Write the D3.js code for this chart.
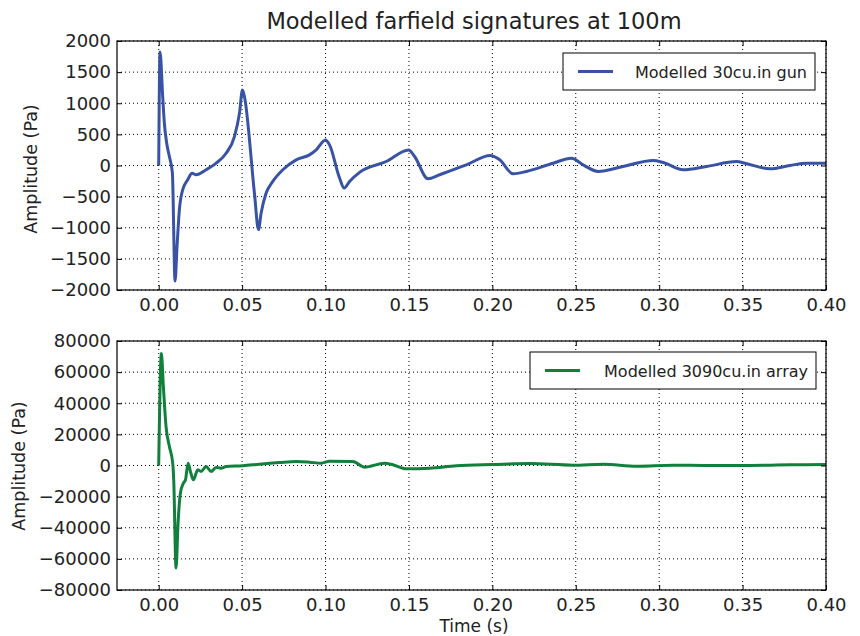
<!DOCTYPE html>
<html lang="en">
<head>
<meta charset="UTF-8">
<title>Modelled farfield signatures</title>
<style>
  body { margin: 0; background: #fff; }
  text { font-family: "DejaVu Sans", sans-serif; fill: #222; }
</style>
</head>
<body>
<svg width="860" height="636"></svg>
<script src="https://d3js.org/d3.v7.min.js"></script>
<script>
// time (s) and amplitude (Pa)
var gunTime = [0, 0.0008, 0.0024, 0.0034, 0.0048, 0.0064, 0.0082, 0.0098, 0.0110, 0.0124, 0.0144, 0.0174, 0.0200, 0.0224, 0.0284, 0.0344, 0.0404, 0.0454, 0.0484, 0.0502, 0.0514, 0.0574, 0.0598, 0.0614, 0.0644, 0.0684, 0.0744, 0.0824, 0.0904, 0.0944, 0.1000, 0.1024, 0.1084, 0.1112, 0.1144, 0.1204, 0.1364, 0.1498, 0.1534, 0.1614, 0.1684, 0.1844, 0.1988, 0.2044, 0.2124, 0.2204, 0.2364, 0.2474, 0.2544, 0.2634, 0.2784, 0.2964, 0.3024, 0.3144, 0.3284, 0.3464, 0.3514, 0.3664, 0.3784, 0.3884, 0.4000];
var gunAmp = [0, 1824, 1104, 677, 357, 144, -120, -1856, -1296, -709, -389, -229, -123, -149, -69, 37, 197, 464, 837, 1211, 1104, -450, -1029, -763, -443, -256, -69, 91, 171, 251, 411, 331, -200, -362, -256, -110, 64, 251, 144, -213, -149, 11, 160, 91, -133, -96, 37, 117, 11, -96, -16, 80, 48, -69, -16, 64, 37, -53, 0, 37, 37];

var arrayTime = [0, 0.0016, 0.0028, 0.0044, 0.0064, 0.0084, 0.0090, 0.0104, 0.0116, 0.0130, 0.0148, 0.0160, 0.0176, 0.0190, 0.0208, 0.0234, 0.0254, 0.0284, 0.0314, 0.0344, 0.0374, 0.0404, 0.0504, 0.0604, 0.0724, 0.0824, 0.0904, 0.0974, 0.1024, 0.1164, 0.1234, 0.1354, 0.1404, 0.1484, 0.1624, 0.1784, 0.2004, 0.2224, 0.2484, 0.2664, 0.2864, 0.3084, 0.3284, 0.3484, 0.3784, 0.4000];
var arrayAmp = [0, 72000, 50700, 25000, 12200, 1500, -9200, -65900, -37000, -17750, -11300, -9500, 1500, -3850, -9200, -2780, -3850, -640, -3850, -1280, -1710, -640, -200, 850, 1900, 2570, 2140, 1500, 2800, 2600, -1070, 1500, 430, -2140, -1710, -210, 640, 1280, 210, 860, -430, 210, 0, 0, 430, 640];

var timeTicks = [0, 0.05, 0.10, 0.15, 0.20, 0.25, 0.30, 0.35, 0.40];
var gunTicks = [-2000, -1500, -1000, -500, 0, 500, 1000, 1500, 2000];
var arrayTicks = [-80000, -60000, -40000, -20000, 0, 20000, 40000, 60000, 80000];

var svg = d3.select("svg");
var left = 117, right = 826;

var x = d3.scaleLinear().domain([-0.025, 0.40]).range([left, right]);

function minus(s) { return s.replace("-", "\u2212"); }

function panel(top, bottom, yDomain, yTicks, times, amps, color, legendText, legendBox) {
    var y = d3.scaleLinear().domain(yDomain).range([bottom, top]);
    var g = svg.append("g");

    // dotted grid
    g.selectAll(".vgrid").data(timeTicks).enter().append("line")
        .attr("x1", function (d) { return x(d); }).attr("x2", function (d) { return x(d); })
        .attr("y1", top).attr("y2", bottom)
        .attr("stroke", "#000").attr("stroke-width", 1).attr("stroke-dasharray", "1,3");
    g.selectAll(".hgrid").data(yTicks).enter().append("line")
        .attr("y1", function (d) { return y(d); }).attr("y2", function (d) { return y(d); })
        .attr("x1", left).attr("x2", right)
        .attr("stroke", "#000").attr("stroke-width", 1).attr("stroke-dasharray", "1,3");

    var pts = times.map(function (t, i) { return [t, amps[i]]; });
    var line = d3.line()
        .x(function (d) { return x(d[0]); })
        .y(function (d) { return y(d[1]); })
        .curve(d3.curveMonotoneX);
    g.append("path").datum(pts)
        .attr("d", line)
        .attr("fill", "none")
        .attr("stroke", color)
        .attr("stroke-width", 3)
        .attr("stroke-linejoin", "round");

    // axes with inward ticks on all sides
    var fmtX = d3.format(".2f");
    g.append("g").attr("transform", "translate(0," + bottom + ")")
        .call(d3.axisBottom(x).tickValues(timeTicks).tickSizeInner(-5).tickSizeOuter(0).tickPadding(8).tickFormat(fmtX));
    g.append("g").attr("transform", "translate(0," + top + ")")
        .call(d3.axisTop(x).tickValues(timeTicks).tickSizeInner(-5).tickSizeOuter(0).tickFormat(""));
    g.append("g").attr("transform", "translate(" + left + ",0)")
        .call(d3.axisLeft(y).tickValues(yTicks).tickSizeInner(-5).tickSizeOuter(0).tickPadding(6)
            .tickFormat(function (d) { return minus(String(d)); }));
    g.append("g").attr("transform", "translate(" + right + ",0)")
        .call(d3.axisRight(y).tickValues(yTicks).tickSizeInner(-5).tickSizeOuter(0).tickFormat(""));

    g.selectAll(".domain").remove();
    g.selectAll(".tick line").attr("stroke", "#000");
    g.selectAll(".tick text").style("font-family", "'DejaVu Sans', sans-serif")
        .style("font-size", "18px").attr("fill", "#222");

    g.append("rect")
        .attr("x", left).attr("y", top)
        .attr("width", right - left).attr("height", bottom - top)
        .attr("fill", "none").attr("stroke", "#000").attr("stroke-width", 1.2);

    // legend
    g.append("rect")
        .attr("x", legendBox[0]).attr("y", legendBox[1])
        .attr("width", legendBox[2]).attr("height", legendBox[3])
        .attr("fill", "#fff").attr("stroke", "#000").attr("stroke-width", 1);
    var my = legendBox[1] + legendBox[3] / 2;
    g.append("line")
        .attr("x1", legendBox[0] + 15).attr("x2", legendBox[0] + 50)
        .attr("y1", my).attr("y2", my)
        .attr("stroke", color).attr("stroke-width", 3);
    g.append("text")
        .attr("x", legendBox[0] + legendBox[2] - 8).attr("y", my + 6)
        .attr("text-anchor", "end")
        .style("font-size", "16px")
        .text(legendText);

    return y;
}

panel(41, 290, [-2000, 2000], gunTicks, gunTime, gunAmp, "#3953a4",
    "Modelled 30cu.in gun", [563, 53, 252, 37]);
panel(341, 590, [-80000, 80000], arrayTicks, arrayTime, arrayAmp, "#10803c",
    "Modelled 3090cu.in array", [530, 352, 286, 37]);

svg.append("text")
    .attr("x", 474).attr("y", 29)
    .attr("text-anchor", "middle")
    .style("font-size", "22.5px")
    .text("Modelled farfield signatures at 100m");

svg.append("text")
    .attr("transform", "translate(37,169) rotate(-90)")
    .attr("text-anchor", "middle")
    .style("font-size", "17.5px")
    .text("Amplitude (Pa)");

svg.append("text")
    .attr("transform", "translate(25,466) rotate(-90)")
    .attr("text-anchor", "middle")
    .style("font-size", "17.5px")
    .text("Amplitude (Pa)");

svg.append("text")
    .attr("x", 474).attr("y", 632)
    .attr("text-anchor", "middle")
    .style("font-size", "17px")
    .text("Time (s)");
</script>
</body>
</html>
